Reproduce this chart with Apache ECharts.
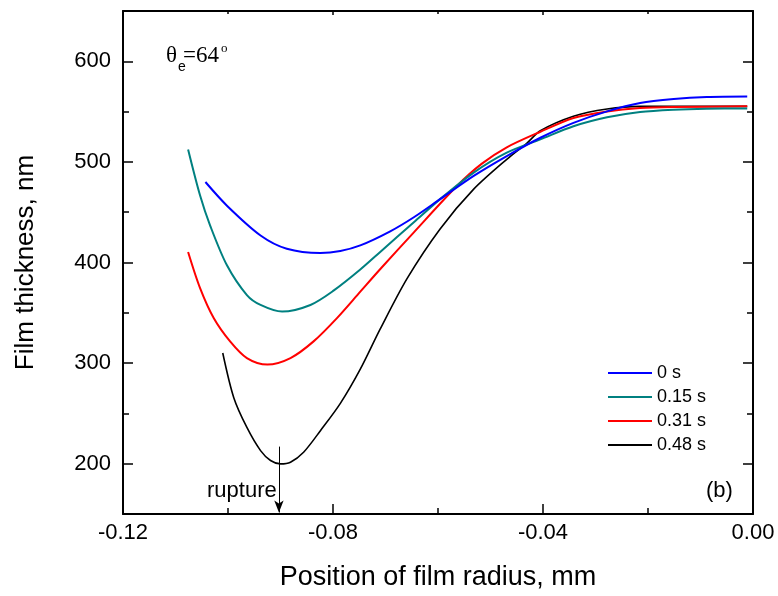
<!DOCTYPE html>
<html>
<head>
<meta charset="utf-8">
<script src="https://cdn.jsdelivr.net/npm/echarts@6/dist/echarts.min.js"></script>
<style>html,body{margin:0;padding:0;background:#fff}#c{width:778px;height:596px}</style>
</head>
<body>
<div id="c"></div>
<script>
const seriesNames = ['0 s', '0.15 s', '0.31 s', '0.48 s'];
const seriesColors = ['#0000ff', '#008080', '#ff0000', '#000000'];
const xTickLabels = ['-0.12', '-0.08', '-0.04', '0.00'];
const yTicks = [200, 300, 400, 500, 600];
const yMinorTicks = [250, 350, 450, 550];

const s0 = [[-0.1043,480],[-0.1002,456.5],[-0.0938,426.9],[-0.0888,413.7],[-0.0824,409.5],[-0.0786,411.5],[-0.0748,417],[-0.0691,431],[-0.0646,445],[-0.0596,463],[-0.0532,486.1],[-0.0469,505.8],[-0.0405,524],[-0.0342,538.8],[-0.0278,550.2],[-0.0215,558.5],[-0.0151,562.5],[-0.0088,564.5],[-0.0011,565]];
const s15 = [[-0.1076,512.4],[-0.1053,466.3],[-0.1034,436.7],[-0.1002,397.2],[-0.0964,367.6],[-0.0938,357.8],[-0.0897,351.2],[-0.0843,357.8],[-0.0799,372],[-0.0748,393],[-0.0709,411],[-0.0646,440],[-0.0596,463],[-0.0532,489.4],[-0.0469,509.2],[-0.0405,522.4],[-0.0342,535.4],[-0.0278,544.3],[-0.0215,549.6],[-0.0151,551.9],[-0.0088,552.9],[-0.0011,553.2]];
const s31 = [[-0.1076,410.5],[-0.1053,374.3],[-0.1027,344.6],[-0.0996,321.6],[-0.0964,305],[-0.0925,298.5],[-0.0881,305],[-0.0837,321.6],[-0.0792,345],[-0.0748,371],[-0.0709,394],[-0.0646,430],[-0.0564,476],[-0.0517,498],[-0.0469,514.5],[-0.0405,530],[-0.0342,543.7],[-0.0278,550.2],[-0.0215,553.6],[-0.0151,554.6],[-0.0011,555.2]];
const s48 = [[-0.1010,310],[-0.0989,265.6],[-0.0964,236],[-0.0938,213],[-0.0919,203.2],[-0.0900,199.8],[-0.0881,201.5],[-0.0856,211.4],[-0.0824,232.8],[-0.0786,260],[-0.0748,294],[-0.0710,334],[-0.0659,384],[-0.0596,433.4],[-0.0532,472.9],[-0.0469,502.6],[-0.0430,519],[-0.0405,531],[-0.0342,545.4],[-0.0278,552.6],[-0.0215,555.2],[-0.0011,555.2]];
const allData = [s0, s15, s31, s48];
const ruptureX = -0.0903;
const ruptureTop = 217;
const ruptureBottom = 151.5;

const FONT = "'Liberation Sans', Arial, sans-serif";
const chart = echarts.init(document.getElementById('c'), null, {renderer: 'canvas'});

function yAxisDef(pos, vals, len, labels, line) {
  return {
    type: 'value', min: 150, max: 650, position: pos,
    axisLine: {show: line, onZero: false, lineStyle: {color: '#000', width: 2}},
    axisTick: {show: true, inside: true, length: len, customValues: vals, lineStyle: {color: '#000', width: 1.5}},
    axisLabel: {show: labels, customValues: vals, margin: 12, color: '#000', fontSize: 22, fontFamily: FONT},
    splitLine: {show: false},
    name: labels ? 'Film thickness, nm' : '',
    nameLocation: 'middle', nameGap: 84,
    nameTextStyle: {color: '#000', fontSize: 26, fontFamily: FONT}
  };
}

const option = {
  animation: false,
  backgroundColor: '#fff',
  grid: {left: 123, right: 25, top: 11, bottom: 78, containLabel: false},
  xAxis: [
    {
      type: 'value', min: -0.12, max: 0, interval: 0.04, position: 'bottom',
      axisLine: {onZero: false, lineStyle: {color: '#000', width: 2}},
      axisTick: {inside: true, length: 10, lineStyle: {color: '#000', width: 1.5}},
      minorTick: {show: true, splitNumber: 2, length: 6, lineStyle: {color: '#000', width: 1.5}},
      axisLabel: {margin: 8, color: '#000', fontSize: 22, fontFamily: FONT,
        formatter: v => xTickLabels[Math.round((v + 0.12) / 0.04)]},
      splitLine: {show: false}, minorSplitLine: {show: false},
      name: 'Position of film radius, mm', nameLocation: 'middle', nameGap: 50,
      nameTextStyle: {color: '#000', fontSize: 27, fontFamily: FONT}
    },
    {
      type: 'value', min: -0.12, max: 0, interval: 0.04, position: 'top',
      axisLine: {onZero: false, lineStyle: {color: '#000', width: 2}},
      axisTick: {inside: true, length: 4, lineStyle: {color: '#000', width: 1.5}},
      minorTick: {show: true, splitNumber: 2, length: 3, lineStyle: {color: '#000', width: 1.5}},
      axisLabel: {show: false}, splitLine: {show: false}
    }
  ],
  yAxis: [
    yAxisDef('left', yTicks, 10, true, true),
    yAxisDef('left', yMinorTicks, 6, false, false),
    yAxisDef('right', yTicks, 10, false, true),
    yAxisDef('right', yMinorTicks, 6, false, false)
  ],
  legend: {
    orient: 'vertical', left: 608, top: 364, padding: 0,
    icon: 'rect', itemWidth: 44, itemHeight: 2, itemGap: 6,
    textStyle: {color: '#000', fontSize: 18, fontFamily: FONT, lineHeight: 18},
    data: seriesNames
  },
  series: seriesNames.map((n, i) => ({
    name: n, type: 'line', data: allData[i], smooth: 0.3,
    symbol: 'none', showSymbol: false,
    xAxisIndex: 0, yAxisIndex: 0,
    lineStyle: {color: seriesColors[i], width: i === 3 ? 1.6 : 2},
    itemStyle: {color: seriesColors[i]},
    z: 3 + (3 - i),
    markLine: i === 3 ? {
      silent: true, symbol: ['none', 'arrow'], symbolSize: [7, 12],
      label: {show: false},
      lineStyle: {color: '#000', width: 1, type: 'solid'},
      data: [[{coord: [ruptureX, ruptureTop]}, {coord: [ruptureX, ruptureBottom]}]]
    } : undefined
  })),
  graphic: [
    {type: 'text', left: 166, top: 44, style: {text: 'θ', font: "23px 'Liberation Serif', 'Times New Roman', serif", fill: '#000'}},
    {type: 'text', left: 178, top: 60, style: {text: 'e', font: "14px 'Liberation Sans', Arial, sans-serif", fill: '#000'}},
    {type: 'text', left: 183, top: 44, style: {text: '=64', font: "23px 'Liberation Serif', 'Times New Roman', serif", fill: '#000'}},
    {type: 'text', left: 221, top: 42, style: {text: 'o', font: "13px 'Liberation Serif', 'Times New Roman', serif", fill: '#000'}},
    {type: 'text', left: 706, top: 480, style: {text: '(b)', font: "22px 'Liberation Sans', Arial, sans-serif", fill: '#000'}},
    {type: 'text', left: 207, top: 480, style: {text: 'rupture', font: "22px 'Liberation Sans', Arial, sans-serif", fill: '#000'}}
  ]
};
chart.setOption(option);
</script>
</body>
</html>
